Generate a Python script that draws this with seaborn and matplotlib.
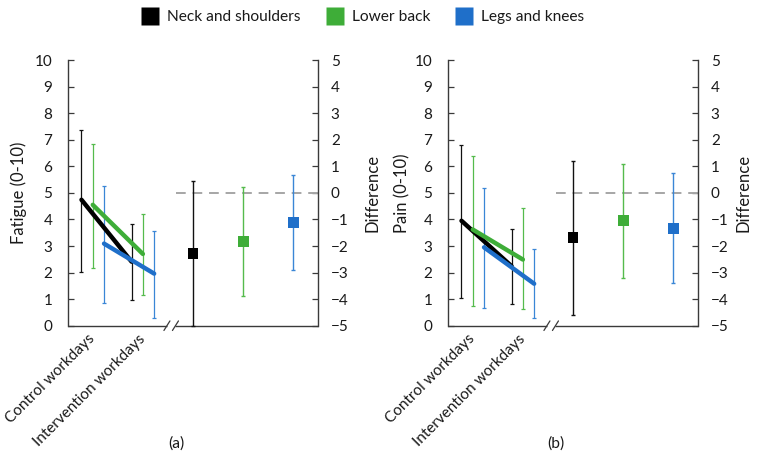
import numpy as np
import pandas as pd
import matplotlib
matplotlib.use("Agg")
import matplotlib.pyplot as plt
import matplotlib.transforms as mtransforms
from matplotlib.lines import Line2D
import seaborn as sns

# ---------------- data ----------------
time_labels = ["Control workdays", "Intervention workdays"]
regions = ["Neck and shoulders", "Lower back", "Legs and knees"]

fatigue_mean_control = [4.74, 4.55, 3.09]
fatigue_mean_interv = [2.41, 2.70, 1.96]
fatigue_lo_control = [2.02, 2.19, 0.85]
fatigue_hi_control = [7.36, 6.83, 5.24]
fatigue_lo_interv = [0.98, 1.16, 0.29]
fatigue_hi_interv = [3.82, 4.19, 3.58]
fatigue_diff = [-2.28, -1.83, -1.10]
fatigue_diff_lo = [-5.00, -3.88, -2.89]
fatigue_diff_hi = [0.44, 0.23, 0.66]

pain_mean_control = [3.95, 3.62, 2.95]
pain_mean_interv = [2.24, 2.49, 1.58]
pain_lo_control = [1.05, 0.75, 0.65]
pain_hi_control = [6.80, 6.39, 5.20]
pain_lo_interv = [0.83, 0.63, 0.29]
pain_hi_interv = [3.65, 4.43, 2.90]
pain_diff = [-1.69, -1.05, -1.34]
pain_diff_lo = [-4.60, -3.19, -3.41]
pain_diff_hi = [1.20, 1.08, 0.74]

left_ticks = list(range(0, 11))
right_ticks = list(range(-5, 6))

# ---------------- style ----------------
sns.set_theme(style="white")
plt.rcParams["font.family"] = ["Lato", "DejaVu Sans"]
FS = 11.2
plt.rcParams["font.size"] = FS

line_colors = ["#000000", "#3EAD38", "#1F6FC9"]
bar_colors = ["#111111", "#55BB4C", "#3A86D6"]
spine_color = "#3A3A3A"
text_color = "#1A1A1A"
offsets = [-0.225, 0.0, 0.225]
diff_pos = [3, 4, 5]

AX_W_PX = 250.6
fig = plt.figure(figsize=(7.59, 4.71), dpi=100)


def draw_panel(left_px, ylabel, ylab_px, dlab_px, mc, mi, loc_, hic, loi, hii,
               dm, dlo, dhi, tag, tag_x):
    ax = fig.add_axes([left_px / 759, 0.3085, AX_W_PX / 759, 0.564])
    ax2 = ax.twinx()
    ax.set_xlim(0.5, 5.5)
    ax.set_ylim(0, 10)
    ax2.set_ylim(-5, 5)

    # error bars for the two periods
    for i in range(3):
        xs = np.array([1, 2]) + offsets[i]
        means = np.array([mc[i], mi[i]])
        lows = np.array([loc_[i], loi[i]])
        highs = np.array([hic[i], hii[i]])
        ax.errorbar(xs, means, yerr=[means - lows, highs - means], fmt="none",
                    ecolor=bar_colors[i], elinewidth=0.9, capsize=1.6,
                    capthick=0.9, zorder=2)

    # mean lines
    df = pd.DataFrame({
        "region": np.repeat(regions, 2),
        "x": [1 + offsets[i] + k for i in range(3) for k in (0, 1)],
        "mean": [v for i in range(3) for v in (mc[i], mi[i])],
    })
    sns.lineplot(data=df, x="x", y="mean", hue="region", hue_order=regions,
                 palette=line_colors, linewidth=3.2, legend=False, ax=ax,
                 zorder=3, sort=False)
    ax.set_xlabel("")
    ax.set_ylabel(ylabel, color=text_color)
    ax.yaxis.set_label_coords((ylab_px - left_px) / AX_W_PX, 0.5)
    ax.yaxis.label.set_va("center")

    # difference panel (right axis)
    ax2.plot([2.66, 5.5], [0, 0], color="#A6A6A6", lw=1.4,
             dashes=(5, 3.5), zorder=1, clip_on=False)
    for i in range(3):
        ax2.errorbar([diff_pos[i]], [dm[i]],
                     yerr=[[dm[i] - dlo[i]], [dhi[i] - dm[i]]], fmt="none",
                     ecolor=bar_colors[i], elinewidth=1.0, capsize=1.6,
                     capthick=1.0, zorder=2, clip_on=False)
    ddf = pd.DataFrame({"region": regions, "pos": diff_pos, "diff": dm})
    sns.scatterplot(data=ddf, x="pos", y="diff", hue="region",
                    hue_order=regions, palette=line_colors, marker="s",
                    s=62, edgecolor="none", legend=False, ax=ax2, zorder=4)
    ax2.set_xlabel("")
    ax2.set_ylabel("Difference", color=text_color)
    ax2.yaxis.set_label_coords((dlab_px - left_px) / AX_W_PX, 0.5)
    ax2.yaxis.label.set_va("center")

    # ticks
    ax.set_yticks(left_ticks)
    ax.set_yticklabels([str(t) for t in left_ticks])
    ax2.set_yticks(right_ticks)
    ax2.set_yticklabels([str(t).replace("-", "\u2212") for t in right_ticks])
    ax.set_xticks([1, 2])
    ax.set_xticklabels(time_labels, rotation=45, ha="right", va="center",
                       rotation_mode="anchor")
    ax.tick_params(axis="y", direction="in", length=4, width=0.9,
                   color=spine_color, pad=11, labelcolor=text_color)
    ax.tick_params(axis="x", direction="in", length=4, width=0.9,
                   color=spine_color, pad=8, labelcolor=text_color)
    ax2.tick_params(axis="y", direction="in", length=4, width=0.9,
                    color=spine_color, pad=9, labelcolor=text_color)
    ax2.set_xlim(0.5, 5.5)

    for a in (ax, ax2):
        for s in a.spines.values():
            s.set_visible(False)
    ax.spines["left"].set_visible(True)
    ax.spines["left"].set_color(spine_color)
    ax.spines["left"].set_linewidth(1.0)
    ax2.spines["right"].set_visible(True)
    ax2.spines["right"].set_color(spine_color)
    ax2.spines["right"].set_linewidth(1.0)

    # broken bottom axis
    bt = mtransforms.blended_transform_factory(ax.transData, ax.transAxes)
    ax.plot([0.5, 2.48], [0, 0], color=spine_color, lw=1.0, transform=bt,
            clip_on=False, zorder=5, solid_capstyle="butt")
    ax.plot([2.65, 5.5], [0, 0], color=spine_color, lw=1.0, transform=bt,
            clip_on=False, zorder=5, solid_capstyle="butt")
    for cx in (2.48, 2.65):
        ax.plot([cx - 0.06, cx + 0.06], [-0.018, 0.018], color=spine_color,
                lw=0.9, transform=bt, clip_on=False, zorder=5)

    fig.text(tag_x / 759, 1 - 443.5 / 471, tag, ha="center", va="center",
             color=text_color, fontsize=FS)
    return ax, ax2


draw_panel(67.7, "Fatigue (0-10)", 18.5, 372.3, fatigue_mean_control,
           fatigue_mean_interv, fatigue_lo_control, fatigue_hi_control,
           fatigue_lo_interv, fatigue_hi_interv, fatigue_diff,
           fatigue_diff_lo, fatigue_diff_hi, "(a)", 176)
draw_panel(447.7, "Pain (0-10)", 402, 744, pain_mean_control,
           pain_mean_interv, pain_lo_control, pain_hi_control,
           pain_lo_interv, pain_hi_interv, pain_diff, pain_diff_lo,
           pain_diff_hi, "(b)", 556)

handles = [Line2D([0], [0], marker="s", linestyle="none", markersize=13.5,
                  markerfacecolor=c, markeredgecolor="none") for c in line_colors]
fig.legend(handles, regions, loc="center", ncol=3,
           bbox_to_anchor=(362 / 759, 1 - 17 / 471), frameon=False,
           handletextpad=0.45, columnspacing=1.55, handlelength=1.3,
           fontsize=FS, labelcolor=text_color)

fig.savefig("out.png", dpi=100)
